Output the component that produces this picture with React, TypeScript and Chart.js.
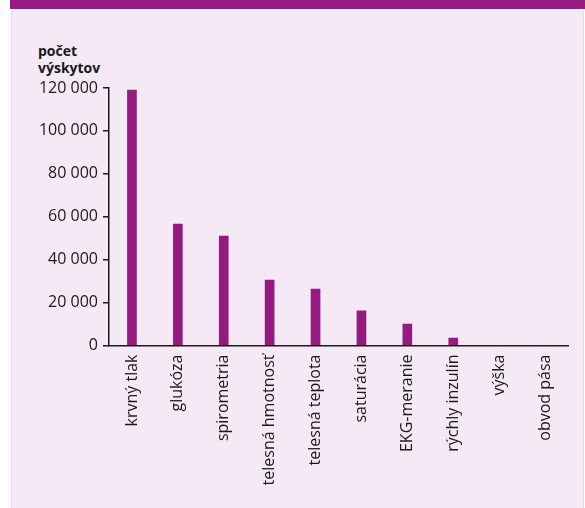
import React, { useEffect, useRef } from "react";
import { Chart, registerables } from "chart.js";

Chart.register(...registerables);

const categories: string[] = [
  "krvný tlak",
  "glukóza",
  "spirometria",
  "telesná hmotnosť",
  "telesná teplota",
  "saturácia",
  "EKG-meranie",
  "rýchly inzulín",
  "výška",
  "obvod pása",
];

const counts: number[] = [119000, 56600, 51000, 30500, 26300, 16100, 10000, 3500, 0, 0];

const yTickValues: number[] = [0, 20000, 40000, 60000, 80000, 100000, 120000];

const yTitleLines: string[] = ["počet", "výskytov"];

const PURPLE = "#951B81";
const BG = "#F4E9F5";
const FONT = "'Open Sans', 'Noto Sans', sans-serif";

function fmt(v: number): string {
  return String(v).replace(/\B(?=(\d{3})+(?!\d))/g, " ");
}

export default function App() {
  const ref = useRef<HTMLCanvasElement | null>(null);

  useEffect(() => {
    if (!ref.current) return;
    const chart = new Chart(ref.current, {
      type: "bar",
      data: {
        labels: categories,
        datasets: [
          {
            data: counts,
            backgroundColor: PURPLE,
            borderWidth: 0,
            barThickness: 9,
          },
        ],
      },
      options: {
        animation: false,
        responsive: false,
        maintainAspectRatio: false,
        layout: { padding: { left: 0, right: 17, top: 88, bottom: 0 } },
        plugins: {
          legend: { display: false },
          tooltip: { enabled: false },
          title: { display: false },
        },
        scales: {
          x: {
            grid: { display: false, drawTicks: false },
            border: { display: true, color: "#1a1a1a", width: 1.5 },
            ticks: {
              color: "#1a1a1a",
              font: { family: FONT, size: 16 },
              minRotation: 90,
              maxRotation: 90,
              padding: 9,
              autoSkip: false,
            },
            afterFit: (scale: any) => {
              scale.height = 162.5;
            },
          },
          y: {
            min: 0,
            max: 120000,
            afterBuildTicks: (scale: any) => {
              scale.ticks = yTickValues.map((v) => ({ value: v }));
            },
            grid: {
              display: true,
              drawOnChartArea: false,
              drawTicks: true,
              tickLength: 6,
              color: "#1a1a1a",
              lineWidth: 1.5,
            },
            border: { display: true, color: "#1a1a1a", width: 1.5 },
            ticks: {
              color: "#1a1a1a",
              font: { family: FONT, size: 16 },
              padding: 5,
              callback: (v: any) => fmt(Number(v)),
            },
            afterFit: (scale: any) => {
              scale.width = 109;
            },
          },
        },
      },
    });
    return () => chart.destroy();
  }, []);

  return (
    <div
      style={{
        position: "fixed",
        left: 0,
        top: 0,
        width: 585,
        height: 508,
        background: "#ffffff",
        overflow: "hidden",
      }}
    >
      <div
        style={{
          position: "absolute",
          left: 10,
          top: 0,
          width: 575,
          height: 9,
          background: PURPLE,
        }}
      />
      <div
        style={{
          position: "absolute",
          left: 11,
          top: 10,
          width: 571,
          height: 498,
          background: BG,
          borderLeft: "1px solid #E8DAEA",
          borderRight: "1px solid #E8DAEA",
        }}
      />
      <div
        style={{
          position: "absolute",
          left: 38,
          top: 42,
          fontFamily: FONT,
          fontWeight: 700,
          fontSize: 14,
          lineHeight: "17px",
          color: "#1a1a1a",
        }}
      >
        {yTitleLines.map((l, i) => (
          <div key={i}>{l}</div>
        ))}
      </div>
      <canvas
        ref={ref}
        width={585}
        height={508}
        style={{ position: "absolute", left: 0, top: 0, width: 585, height: 508 }}
      />
    </div>
  );
}
